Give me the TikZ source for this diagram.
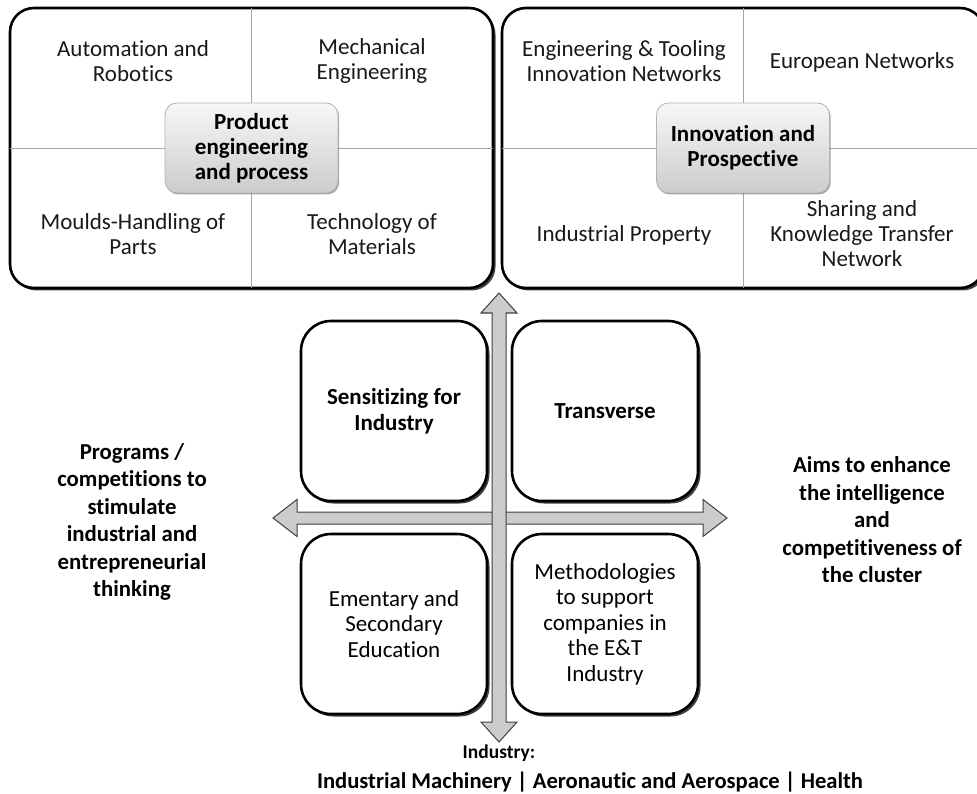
\documentclass[tikz,border=0pt]{standalone}
\usepackage{fontspec}
\setmainfont{Carlito}[Ligatures=NoCommon]
\usetikzlibrary{shadows}
\begin{document}
\begin{tikzpicture}[x=1pt,y=-1pt,
  bigbox/.style={draw=black, line width=2.6pt, rounded corners=24pt, fill=white,
    drop shadow={shadow xshift=2.5pt, shadow yshift=-2.5pt, opacity=0.75, fill=black}},
  midbox/.style={draw=black, line width=2.6pt, rounded corners=30pt, fill=white,
    minimum width=186pt, minimum height=180pt, inner sep=0pt,
    drop shadow={shadow xshift=2.5pt, shadow yshift=-2.5pt, opacity=0.75, fill=black},
    align=center, font=\fontsize{23}{25.5}\selectfont},
  cbox/.style={draw=black!30, line width=0.8pt, rounded corners=12pt,
    top color=white!97!black, bottom color=black!20,
    minimum width=173pt, minimum height=90pt, inner sep=0pt, align=center,
    font=\bfseries\fontsize{23}{25}\selectfont,
    drop shadow={shadow xshift=1.2pt, shadow yshift=-1.5pt, opacity=0.35, fill=black}},
  gridline/.style={draw=black!35, line width=0.9pt},
  qtext/.style={align=center, inner sep=0pt, text=black!90, font=\fontsize{23}{25}\selectfont},
  sidetext/.style={align=center, inner sep=0pt, font=\bfseries\fontsize{22.8}{27.5}\selectfont},
  arrowsty/.style={draw=black!75, line width=1pt, fill=black!20, line join=miter}
]
\useasboundingbox (0,0) rectangle (977,794);
\fill[white] (0,0) rectangle (977,794);

% ---------- top left box ----------
\node[bigbox, minimum width=483pt, minimum height=280pt, inner sep=0pt] (pe) at (251.5,148) {};
\draw[gridline, shorten >=1.3pt, shorten <=1.3pt] (pe.north) -- (pe.south);
\draw[gridline, shorten >=1.3pt, shorten <=1.3pt] (pe.west) -- (pe.east);
\node[cbox] (pec) at (pe.center) {Product\\engineering\\and process};
\node[qtext] (q1) at (133,61) {Automation and\\Robotics};
\node[qtext] (q2) at (372,61) {Mechanical\\Engineering};
\node[qtext] (q3) at (133,234) {Moulds-Handling of\\Parts};
\node[qtext] (q4) at (372,234) {Technology of\\Materials};

% ---------- top right box ----------
\node[bigbox, minimum width=482pt, minimum height=280pt, inner sep=0pt] (ip) at (743,148) {};
\draw[gridline, shorten >=1.3pt, shorten <=1.3pt] (ip.north) -- (ip.south);
\draw[gridline, shorten >=1.3pt, shorten <=1.3pt] (ip.west) -- (ip.east);
\node[cbox] (ipc) at (ip.center) {Innovation and\\Prospective};
\node[qtext] (r1) at (624,61) {Engineering \& Tooling\\Innovation Networks};
\node[qtext] (r2) at (862,62) {European Networks};
\node[qtext] (r3) at (624,235) {Industrial Property};
\node[qtext] (r4) at (862,234) {Sharing and\\Knowledge Transfer\\Network};

% ---------- arrows ----------
\draw[arrowsty] (273,518) -- (297,499.5) -- (297,512) -- (703,512) -- (703,499.5)
  -- (727,518) -- (703,536.5) -- (703,524) -- (297,524) -- (297,536.5) -- cycle;
\draw[arrowsty] (499,293) -- (517,313) -- (506,313) -- (506,722) -- (517,722)
  -- (499,742) -- (481,722) -- (492,722) -- (492,313) -- (481,313) -- cycle;

% ---------- middle boxes ----------
\node[midbox, font=\bfseries\fontsize{23}{25.5}\selectfont] (sens) at (394,411) {Sensitizing for\\Industry};
\node[midbox, font=\bfseries\fontsize{23}{25.5}\selectfont] (trans) at (605,411) {Transverse};
\node[midbox] (edu) at (394,624) {Ementary and\\Secondary\\Education};
\node[midbox] (meth) at (605,624) {Methodologies\\to support\\companies in\\the E\&T\\Industry};

% ---------- side texts ----------
\node[sidetext] (prog) at (132,522) {Programs /\\competitions to\\stimulate\\industrial and\\entrepreneurial\\thinking};
\node[sidetext] (aims) at (872,520) {Aims to enhance\\the intelligence\\and\\competitiveness of\\the cluster};

% ---------- bottom ----------
\node[inner sep=0pt, font=\bfseries\fontsize{19.5}{22}\selectfont] (ind) at (499,753) {Industry:};
\node[inner sep=0pt, font=\bfseries\fontsize{22.6}{26}\selectfont] (sect) at (590,782) {Industrial Machinery | Aeronautic and Aerospace | Health};
\end{tikzpicture}
\end{document}
